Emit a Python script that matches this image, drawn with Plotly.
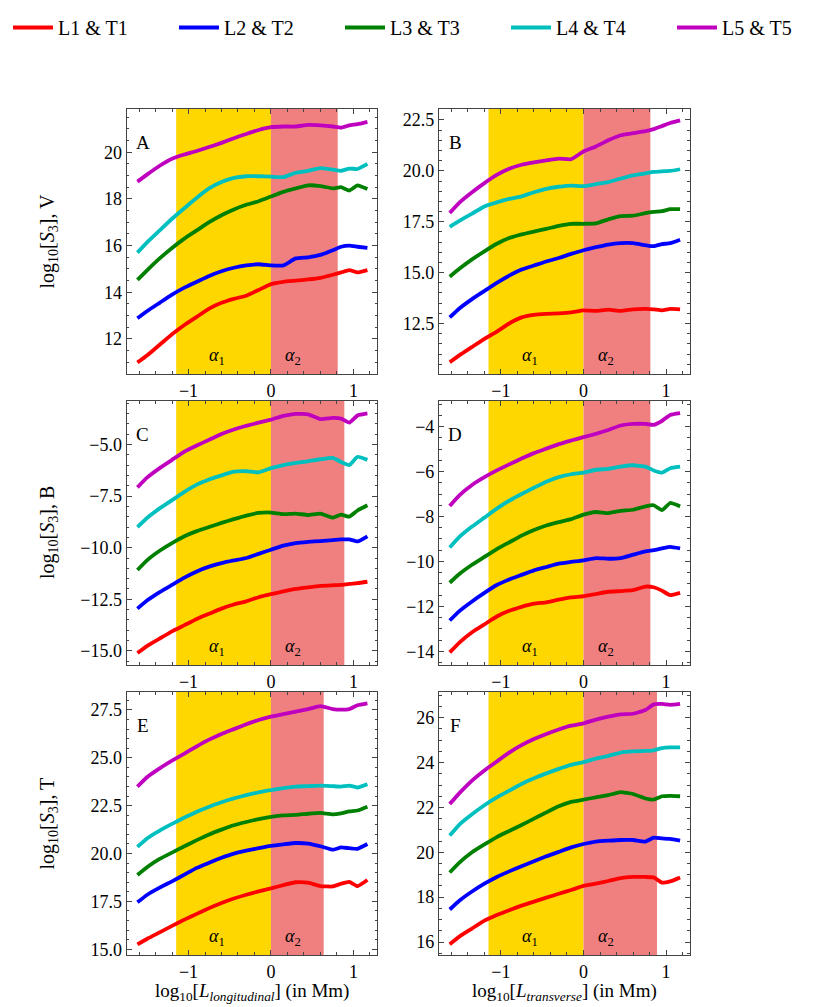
import plotly.graph_objects as go

# log10 of scale length (Mm), shared by all panels
x_log = [-1.62, -1.5, -1.35, -1.2, -1.05, -0.9, -0.75, -0.6, -0.45, -0.3, -0.15,
         0.0, 0.15, 0.3, 0.45, 0.6, 0.75, 0.85, 0.95, 1.05, 1.17]

series_names = ["L1 & T1", "L2 & T2", "L3 & T3", "L4 & T4", "L5 & T5"]
series_colors = ["#ff0000", "#0000ff", "#008000", "#00bfbf", "#bf00bf"]

# panel A : V, longitudinal
A1 = [10.99, 11.3, 11.75, 12.2, 12.6, 12.95, 13.3, 13.55, 13.72, 13.85, 14.1,
      14.35, 14.45, 14.5, 14.55, 14.62, 14.75, 14.85, 14.95, 14.85, 14.95]
A2 = [12.89, 13.2, 13.55, 13.9, 14.2, 14.45, 14.7, 14.9, 15.05, 15.15, 15.2,
      15.15, 15.15, 15.45, 15.5, 15.6, 15.8, 15.95, 16.0, 15.95, 15.9]
A3 = [14.53, 14.95, 15.45, 15.9, 16.3, 16.65, 17.0, 17.3, 17.55, 17.75, 17.9,
      18.1, 18.3, 18.45, 18.58, 18.55, 18.45, 18.5, 18.36, 18.58, 18.42]
A4 = [15.7, 16.15, 16.65, 17.15, 17.6, 18.05, 18.45, 18.72, 18.9, 18.97, 18.97,
      18.95, 18.93, 19.12, 19.2, 19.32, 19.25, 19.2, 19.3, 19.28, 19.5]
A5 = [18.74, 19.05, 19.42, 19.72, 19.9, 20.05, 20.22, 20.4, 20.6, 20.78, 20.95,
      21.07, 21.1, 21.1, 21.17, 21.15, 21.1, 21.05, 21.15, 21.2, 21.3]

# panel B : V, transverse
B1 = [10.6, 10.95, 11.35, 11.75, 12.1, 12.5, 12.8, 12.92, 12.97, 13.0, 13.05,
      13.15, 13.12, 13.18, 13.12, 13.2, 13.22, 13.2, 13.15, 13.22, 13.2]
B2 = [12.8, 13.25, 13.7, 14.1, 14.5, 14.85, 15.15, 15.35, 15.55, 15.72, 15.92,
      16.1, 16.25, 16.38, 16.45, 16.45, 16.35, 16.3, 16.4, 16.45, 16.62]
B3 = [14.8, 15.2, 15.65, 16.05, 16.42, 16.7, 16.88, 17.02, 17.15, 17.3, 17.4,
      17.4, 17.42, 17.62, 17.78, 17.8, 17.92, 17.98, 18.02, 18.12, 18.12]
B4 = [17.25, 17.55, 17.9, 18.25, 18.45, 18.62, 18.75, 18.95, 19.12, 19.22, 19.28,
      19.25, 19.35, 19.45, 19.62, 19.78, 19.88, 19.95, 19.98, 20.0, 20.08]
B5 = [17.93, 18.45, 18.95, 19.4, 19.8, 20.1, 20.3, 20.42, 20.52, 20.6, 20.57,
      20.95, 21.2, 21.5, 21.75, 21.85, 21.95, 22.05, 22.2, 22.35, 22.48]

# panel C : B, longitudinal
C1 = [-15.1, -14.75, -14.4, -14.05, -13.75, -13.45, -13.2, -12.95, -12.75, -12.6, -12.4,
      -12.25, -12.12, -12.0, -11.92, -11.85, -11.82, -11.8, -11.75, -11.72, -11.65]
C2 = [-12.95, -12.55, -12.15, -11.8, -11.45, -11.15, -10.92, -10.75, -10.62, -10.5, -10.3,
      -10.1, -9.9, -9.78, -9.72, -9.68, -9.63, -9.6, -9.6, -9.7, -9.45]
C3 = [-11.08, -10.6, -10.15, -9.78, -9.45, -9.2, -9.0, -8.8, -8.62, -8.45, -8.32,
      -8.3, -8.38, -8.35, -8.42, -8.35, -8.55, -8.4, -8.5, -8.2, -7.95]
C4 = [-9.0, -8.55, -8.1, -7.7, -7.3, -6.95, -6.7, -6.5, -6.32, -6.3, -6.35,
      -6.15, -6.0, -5.9, -5.82, -5.72, -5.65, -5.85, -6.0, -5.6, -5.75]
C5 = [-7.08, -6.6, -6.15, -5.75, -5.35, -5.05, -4.78, -4.5, -4.28, -4.1, -3.95,
      -3.8, -3.62, -3.52, -3.55, -3.78, -3.72, -3.75, -3.95, -3.6, -3.5]

# panel D : B, transverse
D1 = [-14.05, -13.6, -13.15, -12.8, -12.45, -12.2, -12.02, -11.88, -11.82, -11.7, -11.6,
      -11.55, -11.45, -11.35, -11.32, -11.28, -11.12, -11.15, -11.3, -11.5, -11.4]
D2 = [-12.63, -12.2, -11.78, -11.4, -11.05, -10.8, -10.6, -10.4, -10.25, -10.1, -10.02,
      -9.95, -9.85, -9.88, -9.85, -9.7, -9.55, -9.5, -9.42, -9.35, -9.42]
D3 = [-10.95, -10.55, -10.15, -9.8, -9.45, -9.15, -8.85, -8.6, -8.4, -8.25, -8.12,
      -7.92, -7.8, -7.85, -7.75, -7.7, -7.55, -7.5, -7.72, -7.4, -7.55]
D4 = [-9.38, -8.9, -8.45, -8.05, -7.65, -7.3, -7.0, -6.72, -6.45, -6.25, -6.12,
      -6.05, -5.92, -5.88, -5.78, -5.72, -5.78, -5.95, -6.05, -5.85, -5.78]
D5 = [-7.53, -7.05, -6.6, -6.25, -5.95, -5.68, -5.42, -5.18, -4.98, -4.78, -4.62,
      -4.47, -4.32, -4.15, -3.95, -3.88, -3.88, -3.92, -3.75, -3.48, -3.4]

# panel E : T, longitudinal
E1 = [15.25, 15.55, 15.88, 16.22, 16.55, 16.85, 17.15, 17.42, 17.65, 17.85, 18.02,
      18.18, 18.35, 18.5, 18.48, 18.3, 18.28, 18.42, 18.52, 18.3, 18.62]
E2 = [17.45, 17.85, 18.22, 18.55, 18.9, 19.25, 19.52, 19.78, 20.0, 20.15, 20.28,
      20.4, 20.48, 20.55, 20.52, 20.38, 20.2, 20.32, 20.28, 20.25, 20.5]
E3 = [18.88, 19.3, 19.72, 20.05, 20.38, 20.7, 21.0, 21.25, 21.48, 21.65, 21.8,
      21.92, 22.0, 22.02, 22.08, 22.12, 22.05, 22.1, 22.2, 22.25, 22.45]
E4 = [20.35, 20.8, 21.2, 21.55, 21.88, 22.18, 22.45, 22.68, 22.88, 23.05, 23.2,
      23.32, 23.42, 23.5, 23.52, 23.55, 23.52, 23.5, 23.55, 23.45, 23.62]
E5 = [23.5, 24.0, 24.45, 24.85, 25.22, 25.6, 25.95, 26.25, 26.5, 26.75, 26.98,
      27.15, 27.28, 27.42, 27.55, 27.7, 27.55, 27.52, 27.55, 27.75, 27.85]

# panel F : T, transverse
F1 = [15.9, 16.25, 16.6, 16.95, 17.2, 17.42, 17.62, 17.8, 17.98, 18.15, 18.32,
      18.5, 18.6, 18.72, 18.85, 18.9, 18.9, 18.88, 18.65, 18.7, 18.88]
F2 = [17.45, 17.85, 18.25, 18.6, 18.9, 19.15, 19.38, 19.6, 19.82, 20.02, 20.22,
      20.37, 20.48, 20.52, 20.55, 20.55, 20.48, 20.65, 20.62, 20.6, 20.52]
F3 = [19.1, 19.55, 20.0, 20.35, 20.68, 20.95, 21.22, 21.5, 21.78, 22.05, 22.25,
      22.35, 22.45, 22.55, 22.68, 22.6, 22.4, 22.35, 22.5, 22.52, 22.5]
F4 = [20.75, 21.25, 21.7, 22.1, 22.45, 22.75, 23.05, 23.3, 23.52, 23.72, 23.9,
      24.02, 24.18, 24.3, 24.45, 24.5, 24.52, 24.55, 24.65, 24.68, 24.68]
F5 = [22.15, 22.65, 23.2, 23.65, 24.05, 24.45, 24.78, 25.05, 25.28, 25.48, 25.65,
      25.75, 25.92, 26.05, 26.15, 26.18, 26.35, 26.6, 26.62, 26.58, 26.62]

panel_letters = ["A", "B", "C", "D", "E", "F"]
panel_series = [[A1, A2, A3, A4, A5], [B1, B2, B3, B4, B5], [C1, C2, C3, C4, C5],
                [D1, D2, D3, D4, D5], [E1, E2, E3, E4, E5], [F1, F2, F3, F4, F5]]
# fit ranges: alpha1 from alpha1_start to 0, alpha2 from 0 to alpha2_end
alpha1_start = [-1.15, -1.15, -1.15, -1.15, -1.15, -1.15]
alpha_split = [0.0, 0.0, 0.0, 0.0, 0.0, 0.0]
alpha2_end = [0.81, 0.81, 0.89, 0.81, 0.64, 0.89]

y_ranges = [[10.5, 21.85], [10.02, 23.04], [-15.68, -2.9],
            [-14.61, -2.86], [14.7, 28.44], [15.42, 27.15]]
y_dticks = [2, 2.5, 2.5, 2, 2.5, 2]
y_formats = ["d", ".1f", ".1f", "d", ".1f", "d"]
row_labels = ["V", "B", "T"]

FONT = "Liberation Serif"
# the page body adds an 8px margin, so positions are shifted by it;
# the figure is a bit larger than the window so the legend fits on one row
OFF = 8
FW, FH = 850, 1010


def fx(px):
    return (px - OFF) / FW


def fy(py):
    return 1 - (py - OFF) / FH


col_px = [(126.7, 377.3), (439, 690)]
row_px = [(109, 374), (401, 665), (692, 955)]

fig = go.Figure()
shapes = []
annotations = []

for i in range(6):
    r, c = i // 2, i % 2
    n = i + 1
    xa = "x" if n == 1 else "x%d" % n
    ya = "y" if n == 1 else "y%d" % n
    for k, ys in enumerate(panel_series[i]):
        fig.add_trace(go.Scatter(x=x_log, y=ys, mode="lines", xaxis=xa, yaxis=ya,
                                 name=series_names[k], showlegend=(i == 0),
                                 line=dict(color=series_colors[k], width=3.8,
                                           shape="spline", smoothing=0.4)))
    shapes.append(dict(type="rect", xref=xa, yref=ya + " domain", x0=alpha1_start[i],
                       x1=alpha_split[i], y0=0, y1=1, fillcolor="#ffd700",
                       line=dict(width=0), layer="below"))
    shapes.append(dict(type="rect", xref=xa, yref=ya + " domain", x0=alpha_split[i],
                       x1=alpha2_end[i], y0=0, y1=1, fillcolor="#f08080",
                       line=dict(width=0), layer="below"))
    annotations.append(dict(text=panel_letters[i], xref=xa + " domain", yref=ya + " domain",
                            x=0.065, y=0.872, xanchor="center", yanchor="middle",
                            showarrow=False, font=dict(family=FONT, size=19, color="black")))
    annotations.append(dict(text="<i>α</i><sub>1</sub>", xref=xa, yref=ya + " domain",
                            x=-0.65, y=0.065, xanchor="center", yanchor="middle",
                            showarrow=False, font=dict(family=FONT, size=18, color="black")))
    annotations.append(dict(text="<i>α</i><sub>2</sub>", xref=xa, yref=ya + " domain",
                            x=0.27, y=0.065, xanchor="center", yanchor="middle",
                            showarrow=False, font=dict(family=FONT, size=18, color="black")))

    x0, x1 = col_px[c]
    y0, y1 = row_px[r]
    common = dict(showline=True, linecolor="#444", linewidth=1.2, mirror="allticks",
                  ticks="inside", ticklen=5, tickcolor="#444", showgrid=False,
                  zeroline=False, tickfont=dict(family=FONT, size=18, color="black"),
                  automargin=False)
    fig.layout["xaxis" if n == 1 else "xaxis%d" % n] = dict(
        domain=[fx(x0), fx(x1)], range=[-1.75, 1.29], anchor=ya, tick0=0, dtick=1,
        minor=dict(ticks="inside", ticklen=2.5, dtick=0.2, tickcolor="#444"), **common)
    fig.layout["yaxis" if n == 1 else "yaxis%d" % n] = dict(
        domain=[fy(y1), fy(y0)], range=y_ranges[i], anchor=xa, tick0=0,
        dtick=y_dticks[i], tickformat=y_formats[i],
        minor=dict(ticks="inside", ticklen=2.5, dtick=0.5, tickcolor="#444"), **common)

for r in range(3):
    yc = (row_px[r][0] + row_px[r][1]) / 2
    annotations.append(dict(text="log<sub>10</sub>[<i>S</i><sub>3</sub>], " + row_labels[r],
                            xref="paper", yref="paper", x=fx(48), y=fy(yc),
                            xanchor="center", yanchor="middle", textangle=-90,
                            showarrow=False, font=dict(family=FONT, size=20, color="black")))

x_titles = ["log<sub>10</sub>[<i>L</i><sub><i>longitudinal</i></sub>] (in Mm)",
            "log<sub>10</sub>[<i>L</i><sub><i>transverse</i></sub>] (in Mm)"]
for c in range(2):
    xc = (col_px[c][0] + col_px[c][1]) / 2
    annotations.append(dict(text=x_titles[c], xref="paper", yref="paper",
                            x=fx(xc), y=fy(992), xanchor="center", yanchor="middle",
                            showarrow=False, font=dict(family=FONT, size=19, color="black")))

fig.update_layout(
    width=FW, height=FH, margin=dict(l=0, r=0, t=0, b=0),
    paper_bgcolor="white", plot_bgcolor="white",
    shapes=shapes, annotations=annotations,
    legend=dict(orientation="h", x=0.0, y=1.0, xanchor="left", yanchor="top",
                font=dict(family=FONT, size=20, color="black"),
                entrywidth=111, entrywidthmode="pixels", itemwidth=40),
)

fig.write_html("out.html")
